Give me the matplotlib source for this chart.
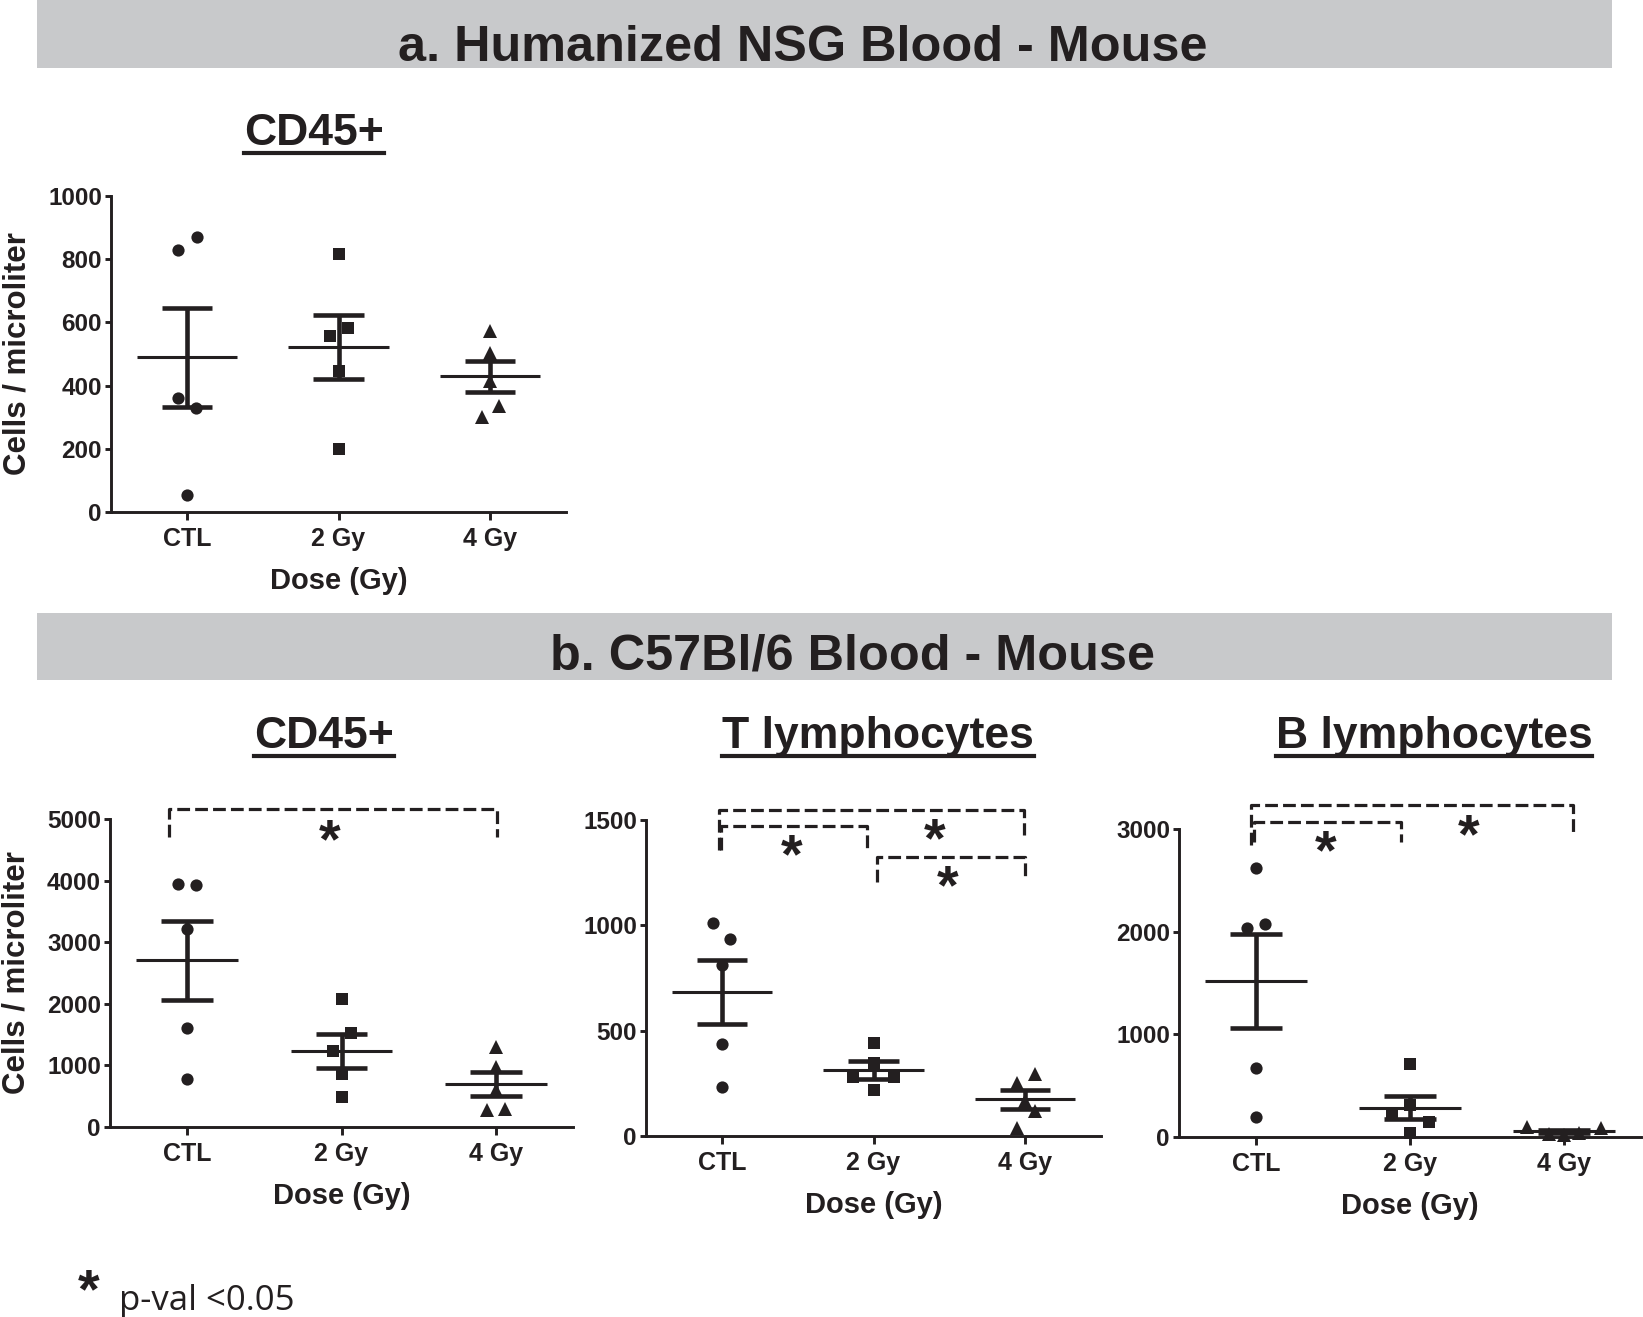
import matplotlib
matplotlib.use('Agg')
import matplotlib.pyplot as plt
import matplotlib.transforms as mtransforms
from matplotlib.patches import Rectangle
from matplotlib.lines import Line2D

plt.rcParams['font.family'] = ['Liberation Sans', 'DejaVu Sans']
plt.rcParams['font.weight'] = 'bold'

INK = '#231f20'
BANNER = '#c8c9cb'
W, H = 1643, 1317

groups = ['CTL', '2 Gy', '4 Gy']
markers = ['o', 's', '^']
msizes = [8.8, 8.3, 10.0]

# a. humanized NSG blood, CD45+
a_ctl = [829, 869, 360, 329, 55]
a_2gy = [817, 582, 557, 447, 199]
a_4gy = [574, 503, 413, 334, 300]
a_mean = [489, 522, 429]
a_sem = [157, 100, 50]
a_jit = [[-0.06, 0.065, -0.06, 0.06, 0], [0, 0.06, -0.055, 0, 0], [0, 0, 0, 0.06, -0.055]]

# b. C57Bl/6 blood, CD45+
b1_ctl = [3944, 3927, 3212, 1609, 785]
b1_2gy = [2075, 1533, 1235, 867, 488]
b1_4gy = [1300, 975, 596, 271, 298]
b1_mean = [2703, 1235, 693]
b1_sem = [640, 271, 195]
b1_jit = [[-0.06, 0.06, 0, 0, 0], [0, 0.06, -0.055, 0, 0], [0, 0, 0, -0.06, 0.06]]

# T lymphocytes
b2_ctl = [1009, 934, 812, 437, 231]
b2_2gy = [443, 348, 279, 279, 218]
b2_4gy = [253, 294, 119, 39, 165]
b2_mean = [684, 313, 174]
b2_sem = [150, 43, 46]
b2_jit = [[-0.061, 0.057, 0, 0, 0], [0, 0, -0.132, 0.132, 0], [-0.057, 0.064, 0.066, -0.057, 0]]

# B lymphocytes
b3_ctl = [2616, 2031, 2070, 676, 195]
b3_2gy = [709, 309, 221, 146, 43]
b3_4gy = [100, 30, 20, 35, 85]
b3_mean = [1518, 286, 55]
b3_sem = [460, 110, 16]
b3_jit = [[0, -0.056, 0.06, 0, 0], [0, 0, -0.119, 0.123, 0], [-0.24, -0.1, 0, 0.1, 0.24]]

# significance brackets: x_left, x_right, y_top, y_left_end, y_right_end
b1_brackets = [(-0.12, 2.01, 5157, 4713, 4713)]
b1_stars = [(0.92, 4821)]
b2_brackets = [(-0.016, 1.995, 1547, 1358, 1429),
               (-0.005, 0.96, 1472, 1358, 1366),
               (1.02, 2.0, 1323, 1207, 1223)]
b2_stars = [(0.46, 1381), (1.40, 1456), (1.49, 1231)]
b3_brackets = [(-0.034, 2.056, 3234, 2844, 2941),
               (-0.011, 0.944, 3071, 2876, 2876)]
b3_stars = [(0.449, 2876), (1.378, 3039)]


fig = plt.figure(figsize=(W / 100, H / 100), dpi=100, facecolor='white')

STAR_FS = 40


def star_transform(base, fs=STAR_FS):
    # asterisk ink sits high in the line box; shift so the glyph is centred on the anchor
    return mtransforms.offset_copy(base, fig=fig, y=-0.23 * fs, units='points')


def draw_panel(rect, values, jitters, means, sems, ymax, yticks, ylabel=None):
    ax = fig.add_axes(rect)
    for i, (vals, jit) in enumerate(zip(values, jitters)):
        ax.plot([i + j for j in jit], vals, linestyle='none', marker=markers[i],
                ms=msizes[i], color=INK, mew=0, clip_on=False, zorder=3)
        ax.hlines(means[i], i - 0.33, i + 0.33, color=INK, lw=2.2, zorder=4)
        ax.vlines(i, means[i] - sems[i], means[i] + sems[i], color=INK, lw=3.3, zorder=4)
        ax.hlines([means[i] - sems[i], means[i] + sems[i]], i - 0.167, i + 0.167,
                  color=INK, lw=3.3, zorder=4)
    ax.set_xlim(-0.5, 2.5)
    ax.set_ylim(0, ymax)
    ax.set_xticks(range(3))
    ax.set_xticklabels(groups)
    ax.set_yticks(yticks)
    ax.set_yticklabels([str(t) for t in yticks])
    for s in ['top', 'right']:
        ax.spines[s].set_visible(False)
    for s in ['left', 'bottom']:
        ax.spines[s].set_linewidth(2.1)
        ax.spines[s].set_color(INK)
    ax.tick_params(axis='x', length=6, width=2.1, pad=5, labelsize=18, colors=INK)
    ax.tick_params(axis='y', length=4.5, width=2.1, pad=2, labelsize=17.5, colors=INK)
    ax.set_xlabel('Dose (Gy)', fontsize=21, fontweight='bold', color=INK, labelpad=11)
    if ylabel:
        ax.set_ylabel(ylabel, fontsize=22.5, fontweight='bold', color=INK, labelpad=11)
    ax.patch.set_alpha(0)
    return ax


def brackets(ax, specs, stars):
    for x0, x1, yt, yl, yr in specs:
        ax.plot([x0, x0, x1, x1], [yl, yt, yt, yr], color=INK, lw=2.3, dashes=(4, 1.6),
                clip_on=False, dash_joinstyle='round', dash_capstyle='butt')
    for x, y in stars:
        ax.text(x, y, '*', transform=star_transform(ax.transData), ha='center', va='center',
                fontsize=STAR_FS, color=INK, fontweight='bold', clip_on=False)


def px_rect(left, right, top, bottom):
    return [left / W, 1 - bottom / H, (right - left) / W, (bottom - top) / H]


ax_a = draw_panel(px_rect(111, 566, 196, 512), [a_ctl, a_2gy, a_4gy], a_jit, a_mean, a_sem,
                  1000, [0, 200, 400, 600, 800, 1000], 'Cells / microliter')
ax_b1 = draw_panel(px_rect(110, 573, 819, 1127), [b1_ctl, b1_2gy, b1_4gy], b1_jit, b1_mean, b1_sem,
                   5000, [0, 1000, 2000, 3000, 4000, 5000], 'Cells / microliter')
ax_b2 = draw_panel(px_rect(646, 1101, 820, 1136), [b2_ctl, b2_2gy, b2_4gy], b2_jit, b2_mean, b2_sem,
                   1500, [0, 500, 1000, 1500])
ax_b3 = draw_panel(px_rect(1179, 1641, 829, 1137), [b3_ctl, b3_2gy, b3_4gy], b3_jit, b3_mean, b3_sem,
                   3000, [0, 1000, 2000, 3000])

brackets(ax_b1, b1_brackets, b1_stars)
brackets(ax_b2, b2_brackets, b2_stars)
brackets(ax_b3, b3_brackets, b3_stars)

# grey section banners
for top, bot in [(0, 68), (613, 680)]:
    fig.patches.append(Rectangle((37 / W, 1 - bot / H), (1612 - 37) / W, (bot - top) / H,
                                 transform=fig.transFigure, facecolor=BANNER, edgecolor='none', zorder=0))
fig.text(803 / W, 1 - 61 / H, 'a. Humanized NSG Blood - Mouse', ha='center', va='baseline',
         fontsize=36.3, fontweight='bold', color=INK)
fig.text(853 / W, 1 - 669 / H, 'b. C57Bl/6 Blood - Mouse', ha='center', va='baseline',
         fontsize=36.3, fontweight='bold', color=INK)

# underlined panel titles
subtitles = [('CD45+', 314, 145), ('CD45+', 324, 748), ('T lymphocytes', 878, 748),
             ('B lymphocytes', 1434, 748)]
sub_texts = []
for label, cx, base in subtitles:
    t = fig.text(cx / W, 1 - base / H, label, ha='center', va='baseline', fontsize=32,
                 fontweight='bold', color=INK)
    sub_texts.append((t, base))

fig.canvas.draw()
renderer = fig.canvas.get_renderer()
for t, base in sub_texts:
    bb = t.get_window_extent(renderer)
    yl = 1 - (base + 8) / H
    fig.lines.append(Line2D([bb.x0 / W, bb.x1 / W], [yl, yl], transform=fig.transFigure,
                            color=INK, lw=3))

# footnote
fig.text(89 / W, 1 - 1280 / H, '*', ha='center', va='center', fontsize=STAR_FS, fontweight='bold',
         color=INK, transform=star_transform(fig.transFigure))
fig.text(119 / W, 1 - 1310 / H, 'p-val <0.05', ha='left', va='baseline', fontsize=25,
         fontweight='normal', family=['Open Sans', 'DejaVu Sans'], color=INK)

fig.savefig('out.png', dpi=100, facecolor='white')
